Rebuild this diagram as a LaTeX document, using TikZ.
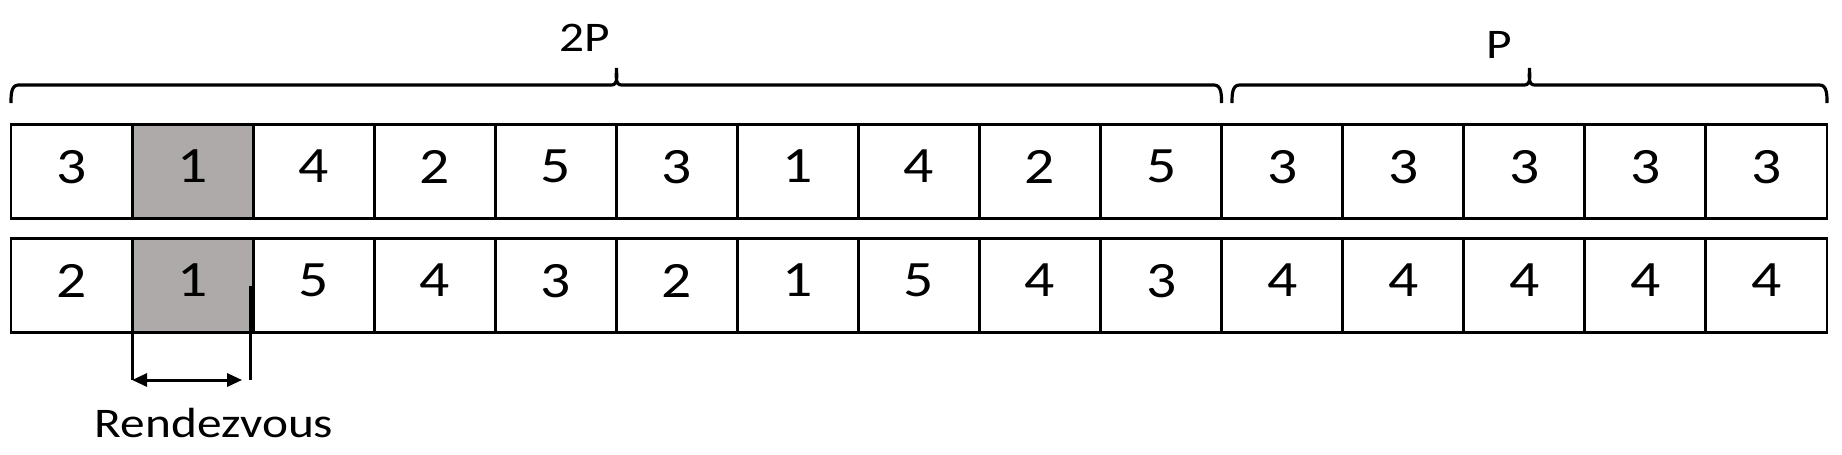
\documentclass[tikz,border=0pt]{standalone}
\usepackage{fontspec}
\setmainfont[FakeStretch=1.17]{Carlito}
\usetikzlibrary{arrows.meta}
\definecolor{cellgray}{RGB}{174,170,170}
\tikzset{
  cell/.style={draw,line width=1.7pt,minimum width=2.4213cm,minimum height=1.87cm,
    inner sep=0pt,outer sep=0pt,text depth=0.2cm,font=\fontsize{29}{30}\selectfont},
  lbl/.style={anchor=base,inner sep=0pt,font=\fontsize{24}{26}\selectfont},
  brc/.style={line width=1.8pt},
  rvline/.style={line width=1.7pt},
}

\begin{document}
\begin{tikzpicture}
	\useasboundingbox (0,0) rectangle (36.84,9.08);
	% upper row
	\foreach \a [count=\i] in {3,1,4,2,5,3,1,4,2,5,3,3,3,3,3} {
		\ifnum\i=2 \def\f{cellgray}\else\def\f{white}\fi
		\node[cell,fill=\f] (r1c\i) at ({0.22+(\i-0.5)*2.4213},5.65) {\a};
	}
	% lower row
	\foreach \a [count=\i] in {2,1,5,4,3,2,1,5,4,3,4,4,4,4,4} {
		\ifnum\i=2 \def\f{cellgray}\else\def\f{white}\fi
		\node[cell,fill=\f] (r2c\i) at ({0.22+(\i-0.5)*2.4213},3.37) {\a};
	}
	% braces
	\draw[brc] (0.22,7.02) to[out=90,in=180] (0.37,7.38) -- (12.23,7.38)
		to[out=0,in=-90] (12.33,7.72) to[out=-90,in=180] (12.43,7.38) -- (24.28,7.38)
		to[out=0,in=90] (24.43,7.02);
	\draw[brc] (24.64,7.02) to[out=90,in=180] (24.79,7.38) -- (30.49,7.38)
		to[out=0,in=-90] (30.59,7.72) to[out=-90,in=180] (30.69,7.38) -- (36.39,7.38)
		to[out=0,in=90] (36.54,7.02);
	\node[lbl] (twoP) at (11.7,8.06) {2P};
	\node[lbl] (oneP) at (29.98,7.92) {P};
	% rendezvous
	\draw[rvline] (r2c2.west) -- ++(0,-1.89) coordinate (rvl);
	\draw[rvline] ([xshift=-0.06cm]r2c2.east) -- ++(0,-1.89) coordinate (rvr);
	\draw[rvline,{Triangle[length=0.3cm,width=0.26cm]}-{Triangle[length=0.3cm,width=0.26cm]}]
		(rvl) -- ([xshift=-0.16cm]rvr);
	\node[lbl] (rvtext) at (4.28,0.34) {Rendezvous};
\end{tikzpicture}
\end{document}
